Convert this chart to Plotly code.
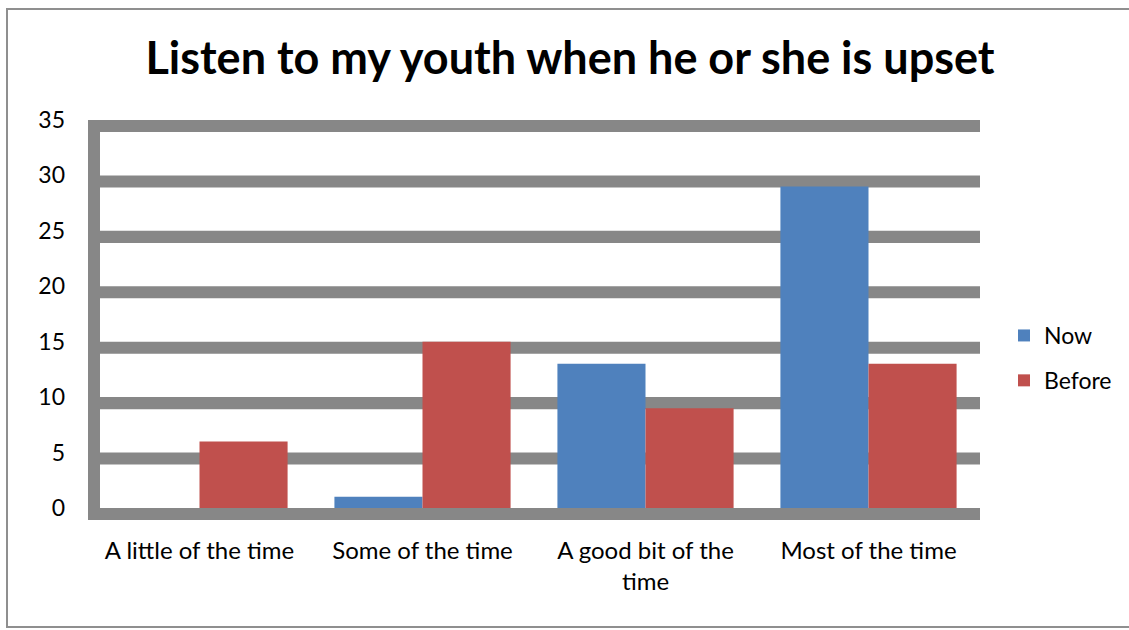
import plotly.graph_objects as go

# Survey responses: how often the parent listens when the youth is upset
categories = ["A little of the time", "Some of the time", "A good bit of the<br>time", "Most of the time"]
now_counts = [0, 1, 13, 29]
before_counts = [6, 15, 9, 13]
y_ticks = [0, 5, 10, 15, 20, 25, 30, 35]

NOW_COLOR = "#4F81BD"
BEFORE_COLOR = "#C0504D"
GRID_COLOR = "#878787"
FONT = "Lato, 'Open Sans', Arial, sans-serif"

W, H = 1129, 630
L, R, T, B = 88, 149, 120, 110
plot_w = W - L - R
plot_h = H - T - B

# thick gridlines hang below their value; the band below zero holds the axis bar
band = 1.09
y_range = [-band, 35]

fig = go.Figure()
fig.add_trace(go.Bar(name="Now", x=categories, y=now_counts, marker_color=NOW_COLOR,
                     marker_line_width=0, legendgroup="now"))
fig.add_trace(go.Bar(name="Before", x=categories, y=before_counts, marker_color=BEFORE_COLOR,
                     marker_line_width=0, legendgroup="before"))

shapes = []
for v in y_ticks:
    shapes.append(dict(type="rect", xref="x domain", yref="y", x0=0, x1=1,
                       y0=v - band, y1=v, fillcolor=GRID_COLOR, line_width=0, layer="below"))
# vertical axis bar
shapes.append(dict(type="rect", xref="x domain", yref="y", x0=0, x1=12 / plot_w,
                   y0=-band, y1=35, fillcolor=GRID_COLOR, line_width=0, layer="below"))


def px_x(px):
    return (px - L) / plot_w


def px_y(py):
    return (H - B - py) / plot_h


# outer chart border (runs off the right edge of the page)
shapes.append(dict(type="rect", xref="paper", yref="paper",
                   x0=px_x(7), x1=px_x(1160), y0=px_y(627), y1=px_y(9),
                   line=dict(color="#8f8f8f", width=2), fillcolor="rgba(0,0,0,0)", layer="below"))

fig.update_layout(
    width=W, height=H,
    margin=dict(l=L, r=R, t=T, b=B, autoexpand=False),
    paper_bgcolor="white", plot_bgcolor="white",
    barmode="group", bargap=0.21, bargroupgap=0,
    title=dict(text="<b>Listen to my youth when he or she is upset</b>",
               x=px_x(570), xref="paper", xanchor="center",
               y=1 - 58 / H, yref="container", yanchor="middle",
               font=dict(family=FONT, size=45, color="black")),
    font=dict(family=FONT, size=24, color="black"),
    xaxis=dict(showgrid=False, zeroline=False, showline=False, ticks="",
               ticklabelstandoff=14, tickfont=dict(size=24)),
    yaxis=dict(range=y_range, tickvals=y_ticks, showgrid=False, zeroline=False,
               showline=False, ticks="", ticklabelstandoff=22, tickfont=dict(size=23)),
    legend=dict(x=px_x(1004), y=px_y(358), xanchor="left", yanchor="middle",
                traceorder="grouped", tracegroupgap=12, font=dict(size=23),
                bgcolor="rgba(0,0,0,0)"),
    shapes=shapes,
)

fig.write_html("out.html")
